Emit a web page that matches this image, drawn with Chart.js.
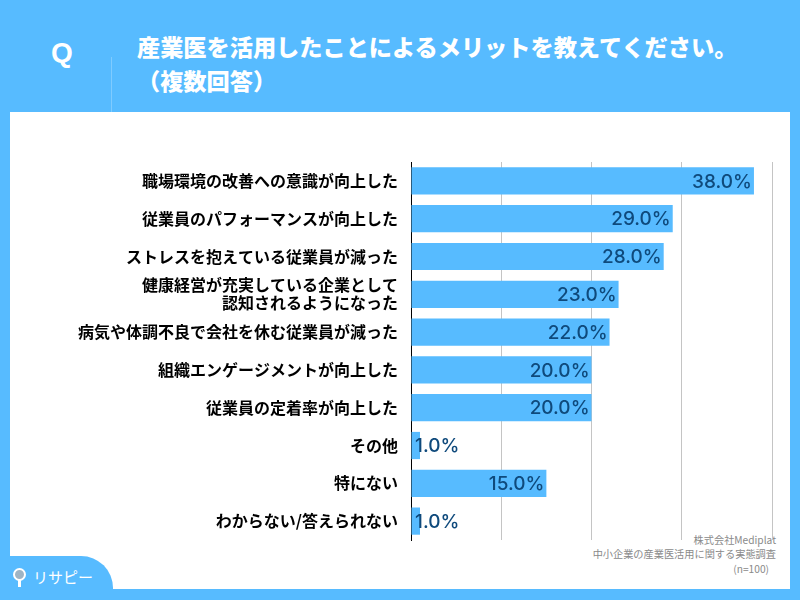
<!DOCTYPE html>
<html>
<head>
<meta charset="utf-8">
<script src="https://cdn.jsdelivr.net/npm/chart.js@4"></script>
<style>
html, body { margin: 0; padding: 0; }
body { width: 800px; height: 600px; overflow: hidden; position: relative; background: #57bbff; font-family: "Noto Sans CJK JP", sans-serif; }
#panel { position: absolute; left: 10px; top: 112px; width: 780px; height: 477px; background: #fff; }
#tab { position: absolute; left: 0; top: 556px; width: 113px; height: 34px; background: #57bbff; border-top-right-radius: 32px; }
#divider { position: absolute; left: 111px; top: 57px; width: 1px; height: 55px; background: #7fcbff; }
#q { position: absolute; left: 51px; top: 37px; color: #fff; font: bold 28px "Liberation Sans", sans-serif; }
.title { position: absolute; color: #fff; font-weight: 900; font-size: 23.2px; line-height: 32px; white-space: nowrap; }
.foot { position: absolute; color: #8a8a8a; font-size: 10.2px; line-height: 14px; white-space: nowrap; text-align: right; }
#pin { position: absolute; left: 13px; top: 568px; width: 9px; height: 9px; border: 2px solid #fff; border-radius: 50%; background: #9fb4c4; }
#pintail { position: absolute; left: 18px; top: 580px; width: 3px; height: 7px; background: #fff; }
#brand { position: absolute; left: 33px; top: 566px; color: #fff; font-size: 15px; line-height: 22px; white-space: nowrap; }
canvas { position: absolute; left: 0; top: 0; }
</style>
</head>
<body>
<div id="panel"></div>
<div id="tab"></div>
<div id="divider"></div>
<div id="q">Q</div>
<div class="title" style="left:137px;top:30px">産業医を活用したことによるメリットを教えてください。</div>
<div class="title" style="left:137px;top:64px">（複数回答）</div>
<div id="pintail"></div>
<div id="pin"></div>
<div id="brand">リサピー</div>
<div class="foot" style="right:24px;top:533px">株式会社Mediplat</div>
<div class="foot" style="right:24px;top:547px">中小企業の産業医活用に関する実態調査</div>
<div class="foot" style="right:31px;top:562px">(n=100)</div>
<canvas id="c" width="800" height="600"></canvas>
<script>
const categories = [
    "職場環境の改善への意識が向上した",
    "従業員のパフォーマンスが向上した",
    "ストレスを抱えている従業員が減った",
    ["健康経営が充実している企業として", "認知されるようになった"],
    "病気や体調不良で会社を休む従業員が減った",
    "組織エンゲージメントが向上した",
    "従業員の定着率が向上した",
    "その他",
    "特にない",
    "わからない/答えられない"
];
const values = [38, 29, 28, 23, 22, 20, 20, 1, 15, 1];

// value labels sit inside the bar end, short bars push them right of the axis
const valueLabels = {
    id: "valueLabels",
    afterDatasetsDraw(chart) {
        const ctx = chart.ctx;
        const bars = chart.getDatasetMeta(0).data;
        ctx.save();
        ctx.font = '500 19px "Inter", sans-serif';
        ctx.fillStyle = "#0f4a7c";
        ctx.textBaseline = "middle";
        bars.forEach((bar, i) => {
            const text = values[i].toFixed(1) + "%";
            if (values[i] < 5) {
                ctx.textAlign = "left";
                ctx.fillText(text, chart.scales.x.left + 4, bar.y + 1);
            } else {
                ctx.textAlign = "right";
                ctx.fillText(text, bar.x - 2, bar.y + 1);
            }
        });
        ctx.restore();
    }
};

new Chart(document.getElementById("c"), {
    type: "bar",
    data: {
        labels: categories,
        datasets: [{
            data: values,
            backgroundColor: "#57bbff",
            categoryPercentage: 1,
            barPercentage: 0.72
        }]
    },
    options: {
        indexAxis: "y",
        responsive: false,
        animation: false,
        devicePixelRatio: 1,
        layout: { padding: { top: 162, right: 28, bottom: 60, left: 0 } },
        plugins: { legend: { display: false }, tooltip: { enabled: false } },
        scales: {
            x: {
                min: 0,
                max: 40,
                ticks: { display: false, stepSize: 10 },
                grid: { color: "#c4c4c4", lineWidth: 1, tickLength: 0, drawTicks: false },
                border: { display: false }
            },
            y: {
                afterFit(scale) { scale.width = 411; },
                ticks: {
                    color: "#000",
                    padding: 13,
                    autoSkip: false,
                    font: { family: '"Noto Sans CJK JP", sans-serif', size: 16, weight: "bold", lineHeight: 1.12 }
                },
                grid: { display: false, drawTicks: false },
                border: { display: true, color: "#000", width: 1 }
            }
        }
    },
    plugins: [valueLabels]
});
</script>
</body>
</html>
